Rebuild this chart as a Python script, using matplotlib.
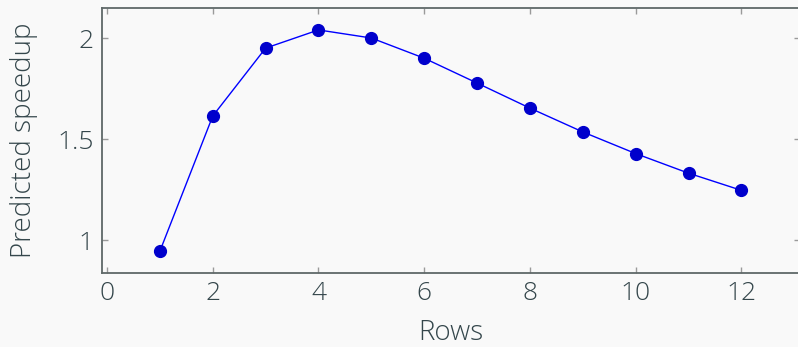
import matplotlib
matplotlib.use("Agg")
import matplotlib.pyplot as plt

rows = [1, 2, 3, 4, 5, 6, 7, 8, 9, 10, 11, 12]
speedup = [0.945, 1.614, 1.95, 2.04, 2.0, 1.90, 1.777, 1.653, 1.535, 1.428, 1.331, 1.246]
xticks = [0, 2, 4, 6, 8, 10, 12]
yticks = [1, 1.5, 2]
yticklabels = ["1", "1.5", "2"]

plt.rcParams['font.family'] = ['Open Sans', 'DejaVu Sans']
bg = "#f9f9f9"
fig = plt.figure(figsize=(7.98, 3.47), dpi=100, facecolor=bg)
ax = fig.add_axes([102/798, 1 - 273/347, 1 - 102/798 + 0.002, (273 - 7.5)/347], facecolor=bg)

ax.plot(rows, speedup, color="#0000ff", lw=1.0, marker="o", ms=8.5,
        mfc="#0000cc", mec="#0000cc", zorder=3)

ax.set_xlim(-0.095, 13.1)
ax.set_ylim(0.837, 2.151)
ax.set_xticks(xticks)
ax.set_yticks(yticks)
ax.set_yticklabels(yticklabels)

spine_c = "#5f6868"
for s in ax.spines.values():
    s.set_color(spine_c)
    s.set_linewidth(1.3)
ax.tick_params(direction="in", length=4.5, width=1.0, color="#9a9a9a",
               labelsize=19, labelcolor="#34464b", top=True, right=True, pad=6)
for lab in ax.get_xticklabels() + ax.get_yticklabels():
    lab.set_fontweight("light")

ax.set_xlabel("Rows", fontsize=20, color="#34464b", fontweight="light", labelpad=9)
ax.set_ylabel("Predicted speedup", fontsize=20, color="#34464b", fontweight="light", labelpad=14)

fig.savefig("out.png", dpi=100, facecolor=bg)
